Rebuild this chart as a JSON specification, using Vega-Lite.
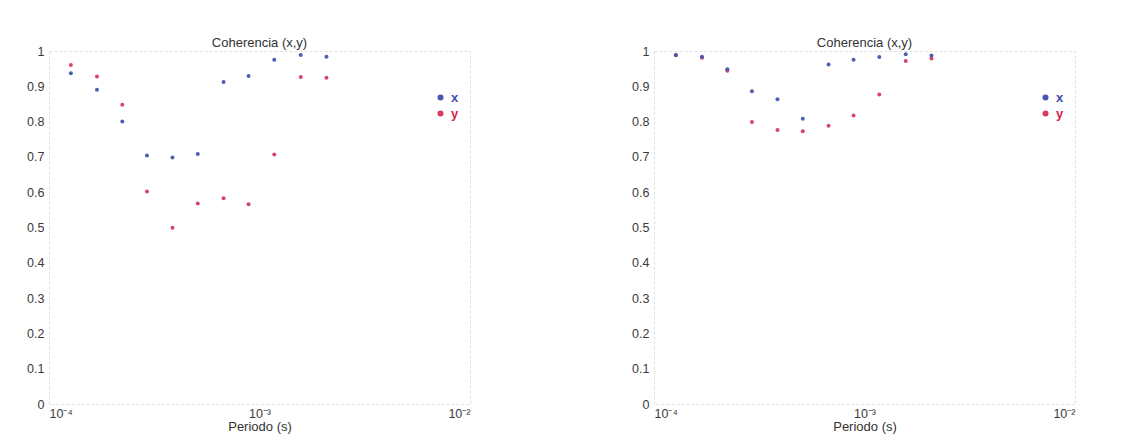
{
  "$schema": "https://vega.github.io/schema/vega-lite/v6.json",
  "background": "white",
  "padding": {"left": 8, "top": 36, "right": 0, "bottom": 0},
  "config": {
    "font": "Liberation Sans",
    "view": {"stroke": "#e0e0e0", "strokeDash": [3, 2]},
    "axis": {"domain": false, "ticks": false, "grid": false, "labelColor": "#3a3a3a", "labelFontSize": 12.5, "labelFont": "Liberation Sans", "titleFont": "Liberation Sans", "titleFontWeight": "normal", "titleColor": "#333333", "titleFontSize": 13},
    "title": {"fontWeight": "normal", "fontSize": 13, "color": "#333333", "offset": -5, "font": "Liberation Sans"},
    "concat": {"spacing": 142}
  },
  "datasets": {
    "izquierda": [
      {"periodo": 0.000127, "coherencia": 0.960, "serie": "y"},
      {"periodo": 0.000169, "coherencia": 0.928, "serie": "y"},
      {"periodo": 0.000223, "coherencia": 0.848, "serie": "y"},
      {"periodo": 0.000292, "coherencia": 0.602, "serie": "y"},
      {"periodo": 0.000386, "coherencia": 0.499, "serie": "y"},
      {"periodo": 0.000509, "coherencia": 0.568, "serie": "y"},
      {"periodo": 0.000675, "coherencia": 0.583, "serie": "y"},
      {"periodo": 0.000887, "coherencia": 0.566, "serie": "y"},
      {"periodo": 0.001175, "coherencia": 0.707, "serie": "y"},
      {"periodo": 0.00157, "coherencia": 0.926, "serie": "y"},
      {"periodo": 0.00208, "coherencia": 0.924, "serie": "y"},
      {"periodo": 0.000127, "coherencia": 0.937, "serie": "x"},
      {"periodo": 0.000169, "coherencia": 0.890, "serie": "x"},
      {"periodo": 0.000223, "coherencia": 0.800, "serie": "x"},
      {"periodo": 0.000292, "coherencia": 0.704, "serie": "x"},
      {"periodo": 0.000386, "coherencia": 0.698, "serie": "x"},
      {"periodo": 0.000509, "coherencia": 0.708, "serie": "x"},
      {"periodo": 0.000675, "coherencia": 0.912, "serie": "x"},
      {"periodo": 0.000887, "coherencia": 0.929, "serie": "x"},
      {"periodo": 0.001175, "coherencia": 0.975, "serie": "x"},
      {"periodo": 0.00157, "coherencia": 0.989, "serie": "x"},
      {"periodo": 0.00208, "coherencia": 0.984, "serie": "x"}
    ],
    "derecha": [
      {"periodo": 0.000127, "coherencia": 0.988, "serie": "y"},
      {"periodo": 0.000169, "coherencia": 0.981, "serie": "y"},
      {"periodo": 0.000223, "coherencia": 0.944, "serie": "y"},
      {"periodo": 0.000292, "coherencia": 0.799, "serie": "y"},
      {"periodo": 0.000386, "coherencia": 0.776, "serie": "y"},
      {"periodo": 0.000509, "coherencia": 0.773, "serie": "y"},
      {"periodo": 0.000675, "coherencia": 0.788, "serie": "y"},
      {"periodo": 0.000887, "coherencia": 0.817, "serie": "y"},
      {"periodo": 0.001175, "coherencia": 0.877, "serie": "y"},
      {"periodo": 0.00157, "coherencia": 0.972, "serie": "y"},
      {"periodo": 0.00208, "coherencia": 0.979, "serie": "y"},
      {"periodo": 0.000127, "coherencia": 0.989, "serie": "x"},
      {"periodo": 0.000169, "coherencia": 0.984, "serie": "x"},
      {"periodo": 0.000223, "coherencia": 0.948, "serie": "x"},
      {"periodo": 0.000292, "coherencia": 0.886, "serie": "x"},
      {"periodo": 0.000386, "coherencia": 0.863, "serie": "x"},
      {"periodo": 0.000509, "coherencia": 0.808, "serie": "x"},
      {"periodo": 0.000675, "coherencia": 0.962, "serie": "x"},
      {"periodo": 0.000887, "coherencia": 0.975, "serie": "x"},
      {"periodo": 0.001175, "coherencia": 0.983, "serie": "x"},
      {"periodo": 0.00157, "coherencia": 0.991, "serie": "x"},
      {"periodo": 0.00208, "coherencia": 0.987, "serie": "x"}
    ]
  },
  "resolve": {"legend": {"color": "independent"}},
  "hconcat": [
    {
      "data": {"name": "izquierda"},
      "width": 421,
      "height": 353,
      "title": "Coherencia (x,y)",
      "mark": {"type": "circle", "size": 16, "opacity": 0.95},
      "encoding": {
        "x": {
          "field": "periodo", "type": "quantitative",
          "scale": {"type": "log", "domain": [0.0001, 0.01], "nice": false},
          "axis": {"values": [0.0001, 0.001, 0.01], "labelExpr": "'10' + (datum.value < 0.0005 ? '⁻⁴' : datum.value < 0.005 ? '⁻³' : '⁻²')", "title": "Periodo (s)", "labelPadding": 3, "titlePadding": 1}
        },
        "y": {
          "field": "coherencia", "type": "quantitative",
          "scale": {"domain": [0, 1], "nice": false},
          "axis": {"values": [0, 0.1, 0.2, 0.3, 0.4, 0.5, 0.6, 0.7, 0.8, 0.9, 1], "format": ".1~f", "title": null, "labelPadding": 5, "minExtent": 40, "maxExtent": 40}
        },
        "color": {
          "field": "serie", "type": "nominal",
          "scale": {"domain": ["x", "y"], "range": ["#4656b0", "#d83a62"]},
          "legend": {"orient": "none", "legendX": 385, "legendY": 40, "title": null, "symbolType": "circle", "symbolSize": 36, "symbolOpacity": 1, "labelFontSize": 13, "labelFontWeight": "bold", "labelOffset": 4, "rowPadding": 2, "labelColor": {"expr": "datum.label == 'x' ? '#3d4fb0' : '#d6204f'"}}
        }
      }
    },
    {
      "data": {"name": "derecha"},
      "width": 421,
      "height": 353,
      "title": "Coherencia (x,y)",
      "mark": {"type": "circle", "size": 16, "opacity": 0.95},
      "encoding": {
        "x": {
          "field": "periodo", "type": "quantitative",
          "scale": {"type": "log", "domain": [0.0001, 0.01], "nice": false},
          "axis": {"values": [0.0001, 0.001, 0.01], "labelExpr": "'10' + (datum.value < 0.0005 ? '⁻⁴' : datum.value < 0.005 ? '⁻³' : '⁻²')", "title": "Periodo (s)", "labelPadding": 3, "titlePadding": 1}
        },
        "y": {
          "field": "coherencia", "type": "quantitative",
          "scale": {"domain": [0, 1], "nice": false},
          "axis": {"values": [0, 0.1, 0.2, 0.3, 0.4, 0.5, 0.6, 0.7, 0.8, 0.9, 1], "format": ".1~f", "title": null, "labelPadding": 5, "minExtent": 40, "maxExtent": 40}
        },
        "color": {
          "field": "serie", "type": "nominal",
          "scale": {"domain": ["x", "y"], "range": ["#4656b0", "#d83a62"]},
          "legend": {"orient": "none", "legendX": 385, "legendY": 40, "title": null, "symbolType": "circle", "symbolSize": 36, "symbolOpacity": 1, "labelFontSize": 13, "labelFontWeight": "bold", "labelOffset": 4, "rowPadding": 2, "labelColor": {"expr": "datum.label == 'x' ? '#3d4fb0' : '#d6204f'"}}
        }
      }
    }
  ]
}
